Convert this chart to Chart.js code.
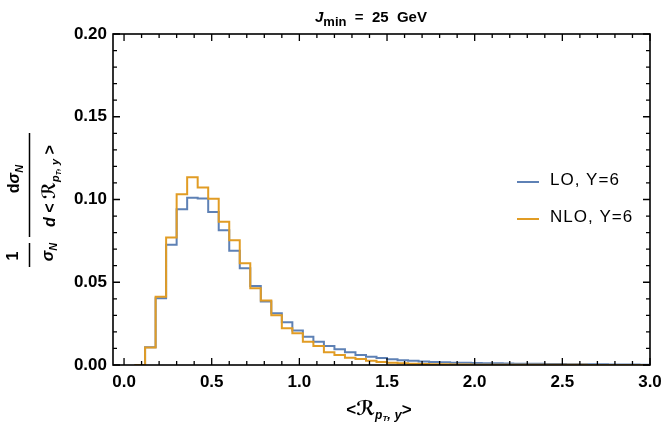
<!DOCTYPE html>
<html>
<head>
<meta charset="utf-8">
<script src="https://cdn.jsdelivr.net/npm/chart.js@4.4.0/dist/chart.umd.min.js"></script>
<style>
  html, body { margin: 0; padding: 0; background: #fff; }
</style>
</head>
<body>
<canvas id="myChart" width="664" height="426"></canvas>
<script>
// left edges of the histogram bins (width 0.06)
var binWidth = 0.06;
var binStart = [0.06, 0.12, 0.18, 0.24, 0.30, 0.36, 0.42, 0.48, 0.54, 0.60,
  0.66, 0.72, 0.78, 0.84, 0.90, 0.96, 1.02, 1.08, 1.14, 1.20,
  1.26, 1.32, 1.38, 1.44, 1.50, 1.56, 1.62, 1.68, 1.74, 1.80,
  1.86, 1.92, 1.98, 2.04, 2.10, 2.16, 2.22, 2.28, 2.34, 2.40,
  2.46, 2.52, 2.58, 2.64, 2.70, 2.76, 2.82, 2.88, 2.94];

var loValues = [0, 0.0108, 0.0403, 0.0726, 0.0941, 0.1010, 0.1006, 0.0925, 0.0814, 0.0691,
  0.0585, 0.0478, 0.0383, 0.0312, 0.0258, 0.0208, 0.0170, 0.0141, 0.0115, 0.0095,
  0.0077, 0.0060, 0.0050, 0.0042, 0.0035, 0.0029, 0.0025, 0.0021, 0.0018, 0.0016,
  0.0014, 0.0013, 0.0012, 0.0011, 0.0010, 0.0009, 0.0008, 0.0008, 0.0007, 0.0006,
  0.0006, 0.0005, 0.0005, 0.0004, 0.0004, 0.0003, 0.0003, 0.0003, 0.0002];

var nloValues = [0, 0.0105, 0.0413, 0.0770, 0.1032, 0.1135, 0.1072, 0.1004, 0.0865, 0.0754,
  0.0615, 0.0464, 0.0389, 0.0300, 0.0222, 0.0192, 0.0140, 0.0115, 0.0077, 0.0060,
  0.0044, 0.0036, 0.0026, 0.0018, 0.0014, 0.0010, 0.0008, 0.0006, 0.0005, 0.0004,
  0.0003, 0.0003, 0.0002, 0.0002, 0.0001, 0.0001, 0.0001, 0.0001, 0.0001, 0.0001,
  0.0001, 0.0001, 0.0001, 0, 0, 0, 0, 0, 0];

var seriesNames = ["LO, Y=6", "NLO, Y=6"];
var xTicks = [0.0, 0.5, 1.0, 1.5, 2.0, 2.5, 3.0];
var yTicks = [0.00, 0.05, 0.10, 0.15, 0.20];

var blue = "#5E81B5";
var orange = "#E19C24";
var F = "'Liberation Sans', Arial, sans-serif";
var tickFont = { family: F, size: 17, weight: "bold" };

function histPoints(values) {
  var pts = binStart.map(function (x, i) { return { x: x, y: values[i] }; });
  var last = binStart.length - 1;
  pts.push({ x: binStart[last] + binWidth, y: values[last] });
  return pts;
}

// draws a row of text pieces (font / vertical shift), centred on cx or left-aligned
function drawRuns(ctx, runs, cx, baseY, left) {
  var total = 0;
  runs.forEach(function (r) { ctx.font = r.font; r.w = ctx.measureText(r.t).width; total += r.w; });
  var x = left ? cx : cx - total / 2;
  ctx.textAlign = "left";
  ctx.textBaseline = "alphabetic";
  runs.forEach(function (r) {
    ctx.font = r.font;
    ctx.fillText(r.t, x, baseY + (r.dy || 0));
    x += r.w;
  });
}

var framePlugin = {
  id: "frame",
  afterDraw: function (chart) {
    var ctx = chart.ctx;
    var a = chart.chartArea;
    var xs = chart.scales.x, ys = chart.scales.y;
    ctx.save();
    ctx.strokeStyle = "#000";
    ctx.lineWidth = 1.6;
    ctx.strokeRect(a.left, a.top, a.right - a.left, a.bottom - a.top);

    // inward ticks on all four sides
    ctx.lineWidth = 1.3;
    ctx.beginPath();
    for (var i = 0; i <= 30; i++) {
      var px = xs.getPixelForValue(i / 10);
      var len = (i % 5 === 0) ? 7 : 4;
      ctx.moveTo(px, a.bottom); ctx.lineTo(px, a.bottom - len);
      ctx.moveTo(px, a.top); ctx.lineTo(px, a.top + len);
    }
    for (var j = 0; j <= 20; j++) {
      var py = ys.getPixelForValue(j / 100);
      var len2 = (j % 5 === 0) ? 7 : 4;
      ctx.moveTo(a.left, py); ctx.lineTo(a.left + len2, py);
      ctx.moveTo(a.right, py); ctx.lineTo(a.right - len2, py);
    }
    ctx.stroke();

    ctx.fillStyle = "#000";
    // title
    drawRuns(ctx, [
      { t: "J", font: "italic bold 15px " + F },
      { t: "min", font: "bold 13px " + F, dy: 4 },
      { t: "  =  25  GeV", font: "bold 15px " + F }
    ], 315, 22, true);

    // x axis title
    drawRuns(ctx, [
      { t: "<", font: "bold 17px " + F },
      { t: "\u211B", font: "italic bold 20px 'DejaVu Sans', " + F },
      { t: "p", font: "italic bold 12px " + F, dy: 4 },
      { t: "T", font: "italic bold 8px " + F, dy: 6 },
      { t: ", y", font: "italic bold 13px " + F, dy: 4 },
      { t: ">", font: "bold 17px " + F }
    ], 379, 415);

    // y axis title, rotated
    ctx.translate(29.5, 0);
    ctx.rotate(-Math.PI / 2);
    ctx.lineWidth = 1.5;
    ctx.beginPath();
    ctx.moveTo(-267, 0); ctx.lineTo(-243, 0);
    ctx.moveTo(-237, 0); ctx.lineTo(-133, 0);
    ctx.stroke();
    drawRuns(ctx, [{ t: "1", font: "bold 16px " + F }], -256, -11.5);
    drawRuns(ctx, [
      { t: "\u03C3", font: "italic bold 16px " + F },
      { t: "N", font: "italic bold 11px " + F, dy: 4 }
    ], -252, 23);
    drawRuns(ctx, [
      { t: "d", font: "bold 16px " + F },
      { t: "\u03C3", font: "italic bold 16px " + F },
      { t: "N", font: "italic bold 11px " + F, dy: 4 }
    ], -179, -11);
    drawRuns(ctx, [
      { t: "d", font: "italic bold 16px " + F },
      { t: " < ", font: "bold 16px " + F },
      { t: "\u211B", font: "italic bold 18px 'DejaVu Sans', " + F },
      { t: "p", font: "italic bold 11px " + F, dy: 4 },
      { t: "T", font: "italic bold 7px " + F, dy: 6 },
      { t: ", y", font: "italic bold 11px " + F, dy: 4 },
      { t: " >", font: "bold 16px " + F }
    ], -186, 25.5);
    ctx.restore();

    // legend
    ctx.save();
    var items = chart.data.datasets.slice().sort(function (p, q) { return p.legendRank - q.legendRank; });
    items.forEach(function (ds, k) {
      var y = 182 + k * 37;
      ctx.strokeStyle = ds.borderColor;
      ctx.lineWidth = 2;
      ctx.beginPath();
      ctx.moveTo(517, y); ctx.lineTo(539, y);
      ctx.stroke();
      ctx.fillStyle = "#000";
      ctx.font = "17px " + F;
      ctx.letterSpacing = "1px";
      ctx.textAlign = "left";
      ctx.textBaseline = "middle";
      ctx.fillText(ds.label, 550, y - 2);
    });
    ctx.restore();
  }
};

var ctx = document.getElementById("myChart").getContext("2d");
var myChart = new Chart(ctx, {
  type: "line",
  data: {
    datasets: [
      {
        label: seriesNames[1],
        legendRank: 1,
        order: 0,
        data: histPoints(nloValues),
        borderColor: orange,
        borderWidth: 2,
        stepped: true,
        pointRadius: 0,
        fill: false
      },
      {
        label: seriesNames[0],
        legendRank: 0,
        order: 1,
        data: histPoints(loValues),
        borderColor: blue,
        borderWidth: 2,
        stepped: true,
        pointRadius: 0,
        fill: false
      }
    ]
  },
  options: {
    responsive: false,
    animation: false,
    layout: { padding: { left: 0, right: 14, top: 34, bottom: 0 } },
    plugins: { legend: { display: false }, title: { display: false }, tooltip: { enabled: false } },
    scales: {
      x: {
        type: "linear",
        min: -0.063,
        max: 3.0,
        afterBuildTicks: function (s) { s.ticks = xTicks.map(function (v) { return { value: v }; }); },
        afterFit: function (s) { s.height = 61; s.paddingLeft = 0; s.paddingRight = 0; },
        grid: { display: false, drawTicks: false },
        border: { display: false },
        ticks: {
          color: "#000", font: tickFont, padding: 7, maxRotation: 0, autoSkip: false,
          callback: function (v) { return Number(v).toFixed(1); }
        }
      },
      y: {
        min: 0,
        max: 0.2,
        afterBuildTicks: function (s) { s.ticks = yTicks.map(function (v) { return { value: v }; }); },
        afterFit: function (s) { s.width = 113; s.paddingTop = 0; s.paddingBottom = 0; },
        grid: { display: false, drawTicks: false },
        border: { display: false },
        ticks: {
          color: "#000", font: tickFont, padding: 6,
          callback: function (v) { return Number(v).toFixed(2); }
        }
      }
    }
  },
  plugins: [framePlugin]
});
</script>
</body>
</html>
